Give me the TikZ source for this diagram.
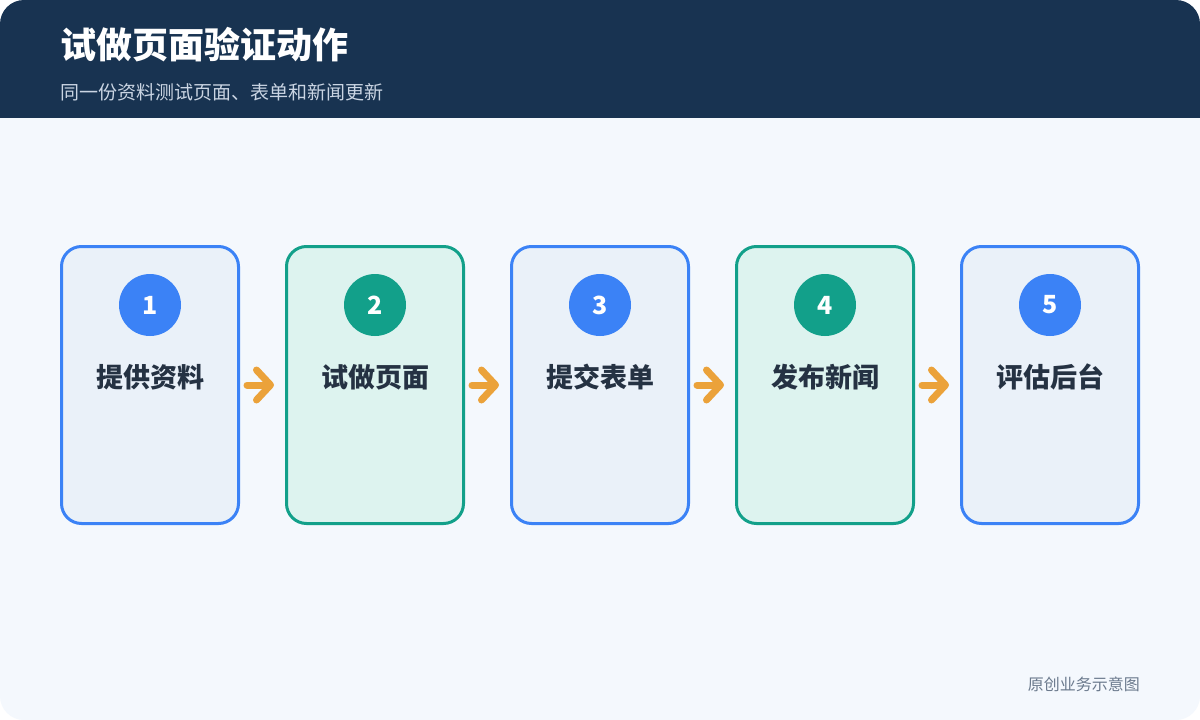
\documentclass[tikz,border=0pt]{standalone}
\usepackage{fontspec}
\setmainfont{Noto Sans CJK SC}
\usetikzlibrary{arrows.meta}

\definecolor{headbg}{HTML}{183351}
\definecolor{pagebg}{HTML}{F4F8FD}
\definecolor{subtxt}{HTML}{CAD5E3}
\definecolor{stepblue}{HTML}{3B82F6}
\definecolor{stepbluefill}{HTML}{EAF1F9}
\definecolor{stepteal}{HTML}{12A08A}
\definecolor{steptealfill}{HTML}{DDF3EF}
\definecolor{flowamber}{HTML}{EBA23A}
\definecolor{labeltxt}{HTML}{253243}
\definecolor{notetxt}{HTML}{6B7A8D}

\tikzset{
  stepcard/.style={draw, line width=3pt, rounded corners=20pt, inner sep=0pt,
    minimum width=177pt, minimum height=277pt},
  bluecard/.style={stepcard, draw=stepblue, fill=stepbluefill},
  tealcard/.style={stepcard, draw=stepteal, fill=steptealfill},
  stepnum/.style={circle, inner sep=0pt, minimum size=62pt, text=white,
    font=\fontsize{25}{25}\selectfont\bfseries},
  steplabel/.style={text=labeltxt, font=\fontsize{27}{27}\selectfont\bfseries},
  flowarrow/.style={draw=flowamber, line width=7pt, line cap=round,
    shorten <=7pt, shorten >=11pt,
    -{Straight Barb[length=14pt, width=30pt, round]}}
}

\begin{document}
\begin{tikzpicture}[x=1pt, y=-1pt]
	    \fill [white] (0,0) rectangle (1200,720);
	    \begin{scope}
	    \clip [rounded corners=24pt] (0,0) rectangle (1200,720);
	    \fill [pagebg] (0,0) rectangle (1200,720);
	    \fill [headbg] (0,0) rectangle (1200,118);
	    \end{scope}
	    % header
	    \node (title) [anchor=west, inner sep=0pt, text=white, font=\fontsize{36}{36}\selectfont\bfseries] at (60,45) {试做页面验证动作};
	    \node (subtitle) [anchor=west, inner sep=0pt, text=subtxt, font=\fontsize{19}{19}\selectfont] at (60,92) {同一份资料测试页面、表单和新闻更新};
	    % steps
	    \node (card1) [bluecard] at (150,385) {};
	    \node (num1) [stepnum, fill=stepblue] at (150,305) {1};
	    \node (label1) [steplabel] at (150,377) {提供资料};
	    \node (card2) [tealcard] at (375,385) {};
	    \node (num2) [stepnum, fill=stepteal] at (375,305) {2};
	    \node (label2) [steplabel] at (375,377) {试做页面};
	    \node (card3) [bluecard] at (600,385) {};
	    \node (num3) [stepnum, fill=stepblue] at (600,305) {3};
	    \node (label3) [steplabel] at (600,377) {提交表单};
	    \node (card4) [tealcard] at (825,385) {};
	    \node (num4) [stepnum, fill=stepteal] at (825,305) {4};
	    \node (label4) [steplabel] at (825,377) {发布新闻};
	    \node (card5) [bluecard] at (1050,385) {};
	    \node (num5) [stepnum, fill=stepblue] at (1050,305) {5};
	    \node (label5) [steplabel] at (1050,377) {评估后台};
	    % arrows
	    \draw [flowarrow] (card1.east) -- (card2.west);
	    \draw [flowarrow] (card2.east) -- (card3.west);
	    \draw [flowarrow] (card3.east) -- (card4.west);
	    \draw [flowarrow] (card4.east) -- (card5.west);
	    % footer
	    \node (note) [anchor=east, inner sep=0pt, text=notetxt, font=\fontsize{16}{16}\selectfont] at (1140,684) {原创业务示意图};
\end{tikzpicture}
\end{document}
